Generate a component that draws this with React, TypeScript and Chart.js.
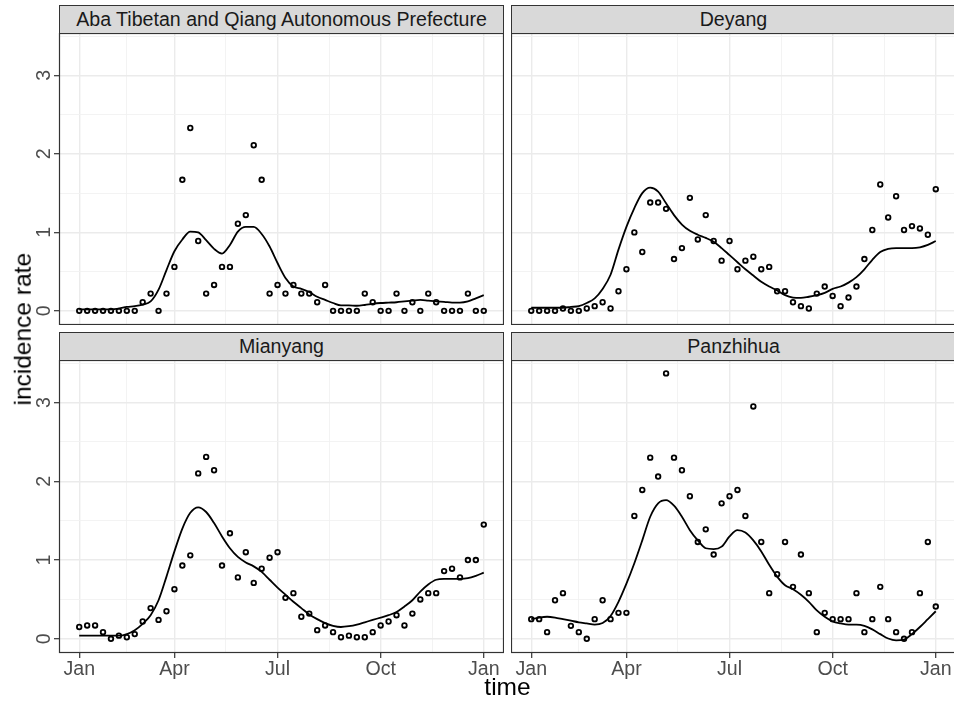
import React, { useEffect, useRef } from "react";
import { Chart, registerables } from "chart.js";
Chart.register(...registerables);

const FONT = '"Liberation Sans", Arial, Helvetica, sans-serif';

// week index of each observation (x position)
const weeks = [0,1,2,3,4,5,6,7,8,9,10,11,12,13,14,15,16,17,18,19,20,21,22,23,24,25,26,27,28,29,30,31,32,33,34,35,36,37,38,39,40,41,42,43,44,45,46,47,48,49,50,51];
const xMajorTicks = [0, 12, 25, 38, 51];
const xMajorLabels = ["Jan", "Apr", "Jul", "Oct", "Jan"];
const xMinorTicks = [6, 18.5, 31.5, 44.5];
const yMajorTicks = [0, 1, 2, 3];
const yMajorLabels = ["0", "1", "2", "3"];
const yMinorTicks = [0.5, 1.5, 2.5, 3.5];
const xMin = -2.55, xMax = 53.55;
const yMin = -0.18, yMax = 3.54;

const facetTitles = ["Aba Tibetan and Qiang Autonomous Prefecture", "Deyang", "Mianyang", "Panzhihua"];

const abaPoints = [0,0,0,0,0,0,0,0,0.11,0.22,0,0.22,0.56,1.67,2.33,0.89,0.22,0.33,0.56,0.56,1.11,1.22,2.11,1.67,0.22,0.33,0.22,0.33,0.22,0.22,0.11,0.33,0,0,0,0,0.22,0.11,0,0,0.22,0,0.11,0,0.22,0.11,0,0,0,0.22,0,0];
const abaSmooth = [0.02,0.02,0.02,0.02,0.02,0.03,0.05,0.06,0.08,0.12,0.27,0.52,0.76,0.91,1.01,1.0,0.9,0.79,0.73,0.84,1.01,1.07,1.07,0.98,0.82,0.61,0.42,0.31,0.28,0.24,0.18,0.14,0.10,0.07,0.07,0.065,0.075,0.09,0.10,0.105,0.11,0.12,0.13,0.14,0.13,0.12,0.115,0.105,0.105,0.12,0.16,0.20];

const deyangPoints = [0,0,0,0,0.03,0,0,0.03,0.06,0.11,0.03,0.25,0.53,1.0,0.75,1.38,1.38,1.30,0.66,0.80,1.44,0.91,1.22,0.89,0.64,0.89,0.53,0.64,0.69,0.53,0.56,0.25,0.25,0.11,0.06,0.03,0.22,0.31,0.19,0.06,0.17,0.31,0.66,1.03,1.61,1.19,1.46,1.03,1.08,1.05,0.97,1.55];
const deyangSmooth = [0.04,0.04,0.04,0.04,0.04,0.05,0.06,0.1,0.16,0.28,0.46,0.78,1.07,1.31,1.50,1.57,1.52,1.37,1.22,1.10,1.02,0.97,0.93,0.88,0.80,0.71,0.62,0.53,0.45,0.37,0.31,0.26,0.20,0.17,0.165,0.18,0.20,0.23,0.28,0.31,0.36,0.43,0.53,0.65,0.75,0.79,0.80,0.80,0.80,0.81,0.84,0.89];

const mianyangPoints = [0.15,0.17,0.17,0.085,0,0.04,0.02,0.06,0.22,0.39,0.24,0.35,0.63,0.93,1.06,2.10,2.31,2.14,0.93,1.34,0.78,1.10,0.71,0.89,1.03,1.10,0.52,0.58,0.28,0.32,0.11,0.17,0.085,0.02,0.04,0.02,0.02,0.085,0.17,0.22,0.30,0.17,0.32,0.50,0.58,0.58,0.86,0.89,0.78,1.0,1.0,1.45];
const mianyangSmooth = [0.04,0.04,0.04,0.04,0.04,0.04,0.06,0.11,0.19,0.30,0.49,0.79,1.11,1.40,1.60,1.67,1.61,1.47,1.30,1.15,1.04,0.97,0.92,0.85,0.75,0.65,0.56,0.47,0.39,0.31,0.25,0.20,0.165,0.15,0.16,0.18,0.21,0.24,0.27,0.30,0.34,0.41,0.49,0.60,0.69,0.75,0.76,0.76,0.76,0.77,0.80,0.84];

const panzhihuaPoints = [0.25,0.25,0.085,0.49,0.58,0.165,0.085,0,0.25,0.49,0.25,0.33,0.33,1.56,1.89,2.30,2.06,3.37,2.30,2.14,1.81,1.23,1.39,1.07,1.72,1.81,1.89,1.56,2.95,1.23,0.58,0.82,1.23,0.66,1.07,0.58,0.085,0.33,0.25,0.25,0.25,0.58,0.085,0.25,0.66,0.25,0.085,0,0.085,0.58,1.23,0.41];
const panzhihuaSmooth = [0.25,0.27,0.28,0.27,0.25,0.23,0.21,0.195,0.18,0.20,0.29,0.47,0.70,0.96,1.25,1.55,1.72,1.76,1.69,1.55,1.38,1.25,1.15,1.14,1.17,1.30,1.38,1.35,1.25,1.11,0.94,0.79,0.68,0.63,0.56,0.47,0.36,0.28,0.22,0.195,0.18,0.18,0.165,0.12,0.06,0.004,-0.02,-0.01,0.06,0.15,0.25,0.35];

const TICK_FONT = 19.6;
const TITLE_FONT = 24.5;

type PanelProps = {
  points: number[];
  smooth: number[];
  chartLeft: number;
  chartTop: number;
  chartWidth: number;
  chartHeight: number;
  showX: boolean;
  showY: boolean;
};

function Panel(props: PanelProps) {
  const ref = useRef<HTMLCanvasElement | null>(null);
  const { points, smooth, chartLeft, chartTop, chartWidth, chartHeight, showX, showY } = props;
  const yAxisW = showY ? 59 : 0;
  const xAxisH = showX ? 40 : 0;
  const cw = yAxisW + chartWidth;
  const ch = chartHeight + xAxisH;

  useEffect(() => {
    if (!ref.current) return;
    const deco = {
      id: "panelDeco",
      afterDraw(chart: any) {
        const ctx = chart.ctx;
        const a = chart.chartArea;
        ctx.save();
        ctx.strokeStyle = "#333333";
        ctx.lineWidth = 1.2;
        ctx.strokeRect(a.left + 0.5, a.top + 0.5, a.right - a.left - 1, a.bottom - a.top - 1);
        if (showY) {
          const ys = chart.scales.y;
          ctx.fillStyle = "#4D4D4D";
          ctx.font = `${TICK_FONT}px ${FONT}`;
          ctx.textAlign = "center";
          ctx.textBaseline = "alphabetic";
          yMajorTicks.forEach((v, i) => {
            const py = ys.getPixelForValue(v);
            ctx.save();
            ctx.translate(a.left - 9.5, py);
            ctx.rotate(-Math.PI / 2);
            ctx.fillText(yMajorLabels[i], 0, 0);
            ctx.restore();
          });
        }
        ctx.restore();
      },
    };
    const xAll = [...xMajorTicks, ...xMinorTicks].sort((p, q) => p - q);
    const yAll = [...yMajorTicks, ...yMinorTicks].sort((p, q) => p - q);
    const chart = new Chart(ref.current, {
      type: "line",
      data: {
        datasets: [
          {
            data: weeks.map((w, i) => ({ x: w, y: points[i] })),
            showLine: false,
            pointStyle: "circle",
            pointRadius: 2.3,
            pointBorderWidth: 1.8,
            pointBorderColor: "#000000",
            pointBackgroundColor: "rgba(0,0,0,0)",
            borderColor: "#000000",
          } as any,
          {
            data: weeks.map((w, i) => ({ x: w, y: smooth[i] })),
            borderColor: "#000000",
            borderWidth: 1.8,
            pointRadius: 0,
            cubicInterpolationMode: "monotone",
            fill: false,
          } as any,
        ],
      },
      options: {
        responsive: false,
        maintainAspectRatio: false,
        animation: false,
        layout: { padding: 0, autoPadding: false },
        plugins: { legend: { display: false }, tooltip: { enabled: false } },
        scales: {
          x: {
            type: "linear",
            min: xMin,
            max: xMax,
            afterBuildTicks: (s: any) => {
              s.ticks = xAll.map((v) => ({ value: v }));
            },
            afterFit: (s: any) => {
              s.height = xAxisH;
            },
            ticks: {
              display: showX,
              autoSkip: false,
              maxRotation: 0,
              minRotation: 0,
              padding: 0,
              color: "#4D4D4D",
              font: { family: FONT, size: TICK_FONT },
              callback: (v: any) => {
                const i = xMajorTicks.indexOf(Number(v));
                return i >= 0 ? xMajorLabels[i] : "";
              },
            },
            grid: {
              color: (c: any) => (xMajorTicks.includes(c.tick?.value) ? "#EBEBEB" : "#F2F2F2"),
              lineWidth: (c: any) => (xMajorTicks.includes(c.tick?.value) ? 1.4 : 0.9),
              drawTicks: showX,
              tickLength: 5,
              tickWidth: 1.2,
              tickColor: (c: any) => (xMajorTicks.includes(c.tick?.value) ? "#333333" : "rgba(0,0,0,0)"),
            },
            border: { display: false },
          } as any,
          y: {
            type: "linear",
            min: yMin,
            max: yMax,
            afterBuildTicks: (s: any) => {
              s.ticks = yAll.map((v) => ({ value: v }));
            },
            afterFit: (s: any) => {
              s.width = yAxisW;
            },
            ticks: { display: false },
            grid: {
              color: (c: any) => (yMajorTicks.includes(c.tick?.value) ? "#EBEBEB" : "#F2F2F2"),
              lineWidth: (c: any) => (yMajorTicks.includes(c.tick?.value) ? 1.4 : 0.9),
              drawTicks: showY,
              tickLength: 5,
              tickWidth: 1.2,
              tickColor: (c: any) => (yMajorTicks.includes(c.tick?.value) ? "#333333" : "rgba(0,0,0,0)"),
            },
            border: { display: false },
          } as any,
        },
      },
      plugins: [deco],
    });
    return () => chart.destroy();
  }, []);

  return (
    <canvas
      ref={ref}
      width={cw}
      height={ch}
      style={{ position: "absolute", left: chartLeft - yAxisW, top: chartTop, width: cw, height: ch }}
    />
  );
}

function Strip(props: { title: string; left: number; top: number; width: number; height: number }) {
  return (
    <div
      style={{
        position: "absolute",
        left: props.left,
        top: props.top,
        width: props.width,
        height: props.height,
        boxSizing: "border-box",
        border: "1px solid #333333",
        background: "#D9D9D9",
        color: "#1A1A1A",
        fontFamily: FONT,
        fontSize: TICK_FONT,
        display: "flex",
        alignItems: "center",
        justifyContent: "center",
        whiteSpace: "nowrap",
      }}
    >
      {props.title}
    </div>
  );
}

export default function App() {
  const panels = [
    { title: facetTitles[0], points: abaPoints, smooth: abaSmooth, left: 59, top: 33, height: 292, showX: false, showY: true, stripTop: 5, stripH: 29 },
    { title: facetTitles[1], points: deyangPoints, smooth: deyangSmooth, left: 511, top: 33, height: 292, showX: false, showY: false, stripTop: 5, stripH: 29 },
    { title: facetTitles[2], points: mianyangPoints, smooth: mianyangSmooth, left: 59, top: 360, height: 293, showX: true, showY: true, stripTop: 332, stripH: 29 },
    { title: facetTitles[3], points: panzhihuaPoints, smooth: panzhihuaSmooth, left: 511, top: 360, height: 293, showX: true, showY: false, stripTop: 332, stripH: 29 },
  ];
  const width = 445;
  return (
    <div
      style={{
        position: "absolute",
        left: 0,
        top: 0,
        width: 954,
        height: 706,
        overflow: "hidden",
        background: "#FFFFFF",
        fontFamily: FONT,
      }}
    >
      {panels.map((p, i) => (
        <Panel
          key={"p" + i}
          points={p.points}
          smooth={p.smooth}
          chartLeft={p.left}
          chartTop={p.top}
          chartWidth={width}
          chartHeight={p.height}
          showX={p.showX}
          showY={p.showY}
        />
      ))}
      {panels.map((p, i) => (
        <Strip key={"s" + i} title={p.title} left={p.left} top={p.stripTop} width={width} height={p.stripH} />
      ))}
      <div
        style={{
          position: "absolute",
          left: 59,
          width: 897,
          top: 675,
          height: TITLE_FONT,
          lineHeight: TITLE_FONT + "px",
          fontSize: TITLE_FONT,
          textAlign: "center",
          color: "#000000",
          fontFamily: FONT,
        }}
      >
        time
      </div>
      <div
        style={{
          position: "absolute",
          left: 23 - 150,
          width: 300,
          top: 329 - TITLE_FONT / 2,
          height: TITLE_FONT,
          lineHeight: TITLE_FONT + "px",
          fontSize: TITLE_FONT,
          textAlign: "center",
          color: "#000000",
          fontFamily: FONT,
          transform: "rotate(-90deg)",
        }}
      >
        incidence rate
      </div>
    </div>
  );
}
